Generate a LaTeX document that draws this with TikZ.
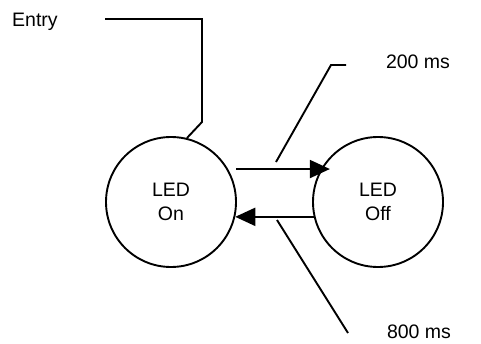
\documentclass[tikz,border=0pt]{standalone}
\usepackage{fontspec}
\setmainfont{Liberation Sans}
\usetikzlibrary{arrows.meta,positioning}
\tikzset{
  st/.style={circle,draw=black,line width=1.9pt,minimum size=130pt,
             inner sep=0pt,align=center,font=\fontsize{19.5}{24}\selectfont},
  lbl/.style={font=\fontsize{19.5}{24}\selectfont,inner sep=0pt},
  arr/.style={-{Triangle[length=20pt,width=18pt]},line width=1.9pt},
  lead/.style={line width=1.9pt},
}
\begin{document}
\begin{tikzpicture}[x=1pt,y=-1pt]
  \useasboundingbox (0,0) rectangle (481,343);

  %% ── states ───────────────────────────────────────────────────────────────
  \node[st] (on)  at (171,202) {LED\\On};
  \node[st] (off) at (378,202) {LED\\Off};

  %% ── transitions ──────────────────────────────────────────────────────────
  \draw[arr,shorten <=8pt,shorten >=-9pt] (on.30) -- (off.150);
  \draw[arr] (off.193) -- (on.-13);

  %% ── entry ────────────────────────────────────────────────────────────────
  \node[lbl,anchor=west] (entry) at (12,22) {Entry};
  \coordinate (e0) at (105,19);
  \draw[lead] (e0) -- (202,19) -- (202,122) -- (on.76);

  %% ── timing labels ────────────────────────────────────────────────────────
  \node[lbl] (t200) at (418,62) {200 ms};
  \node[lbl] (t800) at (419,332) {800 ms};
  \coordinate (a200) at (346,65);
  \coordinate (b200) at (276,162);
  \coordinate (a800) at (348,333);
  \coordinate (b800) at (277,220);
  \draw[lead] (a200) -- (331,65) -- (b200);
  \draw[lead] (a800) -- (b800);

\end{tikzpicture}
\end{document}
